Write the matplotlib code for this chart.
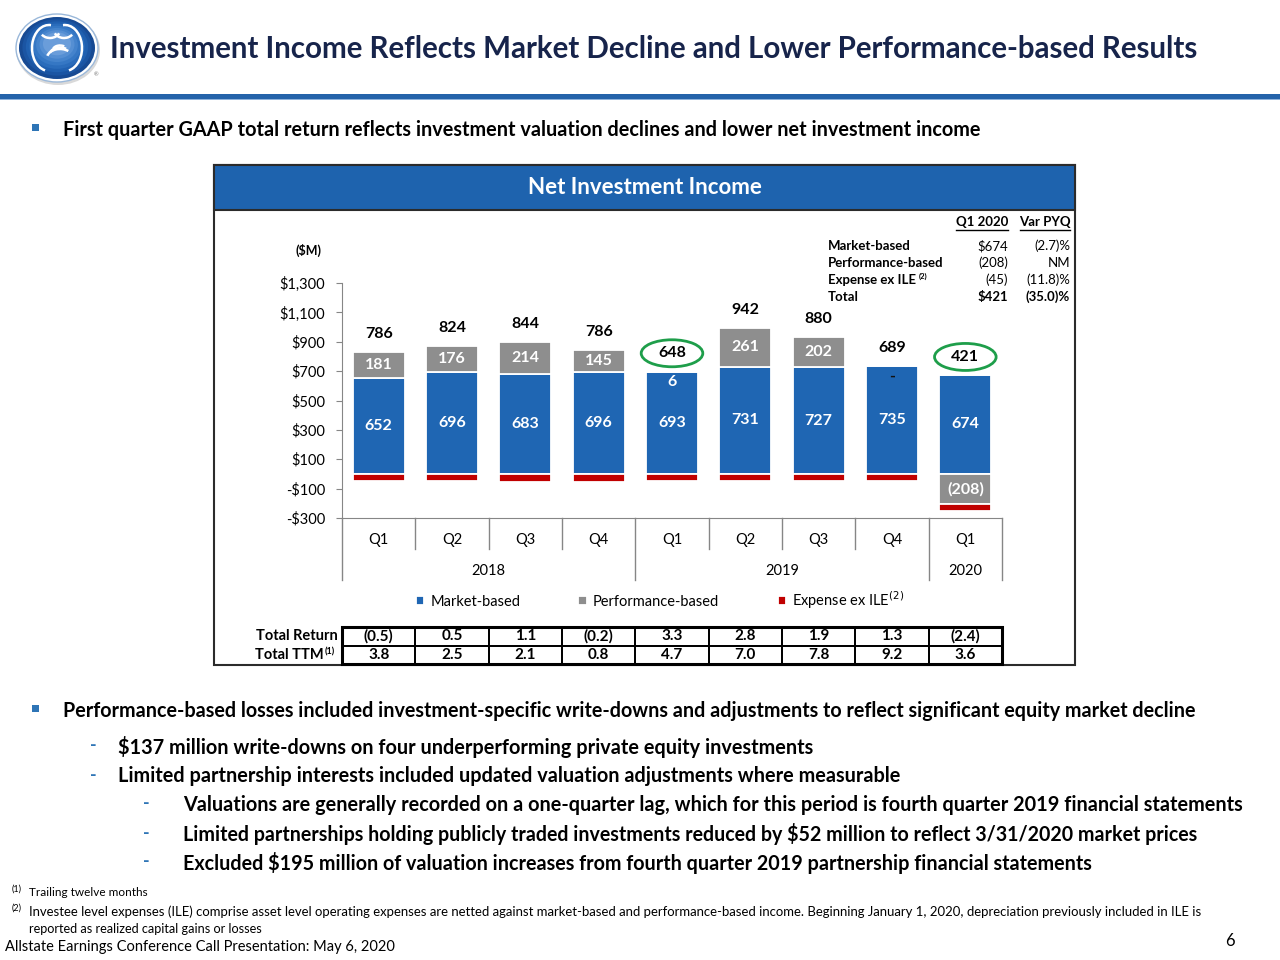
import matplotlib
matplotlib.use("Agg")
import numpy as np
import matplotlib.pyplot as plt
from matplotlib import transforms
from matplotlib.patches import Rectangle, Ellipse, Arc
from matplotlib.lines import Line2D
from matplotlib.ticker import FuncFormatter, FixedLocator

plt.rcParams['font.family'] = ['Lato', 'DejaVu Sans']

# ---------------- data ----------------
quarters = ['Q1', 'Q2', 'Q3', 'Q4', 'Q1', 'Q2', 'Q3', 'Q4', 'Q1']
years = ['2018', '2019', '2020']
year_span = [4, 4, 1]
market = [652, 696, 683, 696, 693, 731, 727, 735, 674]
performance = [181, 176, 214, 145, 6, 261, 202, 0, -208]
expense = [-47, -48, -53, -55, -51, -50, -49, -46, -45]
circled = [4, 8]
total_return = ['(0.5)', '0.5', '1.1', '(0.2)', '3.3', '2.8', '1.9', '1.3', '(2.4)']
total_ttm = ['3.8', '2.5', '2.1', '0.8', '4.7', '7.0', '7.8', '9.2', '3.6']
y_ticks = [-300, -100, 100, 300, 500, 700, 900, 1100, 1300]

summary_labels = ['Market-based', 'Performance-based', 'Expense ex ILE', 'Total']
summary_q1 = ['$674', '(208)', '(45)', '$421']
summary_var = ['(2.7)%', 'NM', '(11.8)%', '(35.0)%']

# ---------------- style ----------------
BLUE = '#1F66B3'
HDR = '#1E63AE'
GREY = '#8E8E8E'
RED = '#C00000'
NAVY = '#17244B'
AXG = '#868686'
GREEN = '#1E9E4A'

W, H = 1280, 960
fig = plt.figure(figsize=(12.8, 9.6), dpi=100)
ov = fig.add_axes([0, 0, 1, 1], zorder=0)
ov.set_xlim(0, W)
ov.set_ylim(H, 0)
ov.axis('off')
ov.set_autoscale_on(False)
renderer = fig.canvas.get_renderer()


def put(x, y, s, width=None, size=12, **kw):
    kw.setdefault('va', 'center')
    t = ov.text(x, y, s, fontsize=size, parse_math=False, **kw)
    if width:
        w = t.get_window_extent(renderer=renderer).width
        t.set_fontsize(size * width / w)
    return t


# ---------------- logo ----------------
cols = ['#174A93', '#1B55A3', '#2060B0', '#2A6CBB', '#3577C4', '#4483CC', '#558FD3', '#6A9DDA']
ov.add_patch(Ellipse((58, 50), 84, 70, fc='#D9D9D9', ec='none'))
ov.add_patch(Ellipse((57, 48), 82, 68, fc='white', ec='#9AB8DA', lw=1))
for k, c in enumerate(cols):
    s = 1 - k * 0.09
    ov.add_patch(Ellipse((57, 48 - k * 0.6), 76 * s, 62 * s, fc=c, ec='none'))
for (cx, cy, w_, h_, t1, t2) in [(49, 48, 34, 46, 100, 275), (65, 48, 34, 46, -95, 80),
                                 (60, 58, 26, 18, 190, 320), (60, 54, 20, 13, 190, 320),
                                 (60, 50, 14, 9, 190, 320),
                                 (50, 30, 20, 16, 20, 150), (64, 30, 20, 16, 30, 160)]:
    ov.add_patch(Arc((cx, cy), w_, h_, theta1=t1, theta2=t2, color='white', lw=1.8))
put(94, 75, '®', size=4, color='#777777')

# ---------------- title & rule ----------------
put(110, 49, 'Investment Income Reflects Market Decline and Lower Performance-based Results',
    width=1090, size=22, color=NAVY, fontweight='bold')
ov.add_patch(Rectangle((0, 94), W, 5, fc='#2463AA', ec='none'))
ov.add_patch(Rectangle((0, 99), W, 1.2, fc='#8FB3DC', ec='none'))

# ---------------- bullets ----------------
def bullet(y):
    ov.add_patch(Rectangle((32, y - 4), 7, 7, fc='#2E75B6', ec='none'))


bullet(128)
put(63, 130, 'First quarter GAAP total return reflects investment valuation declines and lower net investment income',
    width=912, size=13, fontweight='bold', color='black')
bullet(709)
put(63, 711, 'Performance-based losses included investment-specific write-downs and adjustments to reflect significant equity market decline',
    width=1134, size=14, fontweight='bold', color='black')
subs = [(90, 118, 747, '$137 million write-downs on four underperforming private equity investments', 695),
        (90, 118, 776, 'Limited partnership interests included updated valuation adjustments where measurable', 787),
        (143, 183, 805, 'Valuations are generally recorded on a one-quarter lag, which for this period is fourth quarter 2019 financial statements', 1062),
        (143, 183, 834, 'Limited partnerships holding publicly traded investments reduced by $52 million to reflect 3/31/2020 market prices', 1020),
        (143, 183, 863, 'Excluded $195 million of valuation increases from fourth quarter 2019 partnership financial statements', 912)]
for dx, tx, y, s, wdt in subs:
    put(dx, y - 1, '-', size=13, color='#2E75B6', fontweight='bold')
    put(tx, y, s, width=wdt, size=14, fontweight='bold', color='black')

# ---------------- footnotes ----------------
put(12, 889, '(1)', size=6.5, color='black')
put(29, 893, 'Trailing twelve months', width=118, size=8, color='black')
put(12, 908, '(2)', size=6.5, color='black')
put(29, 912, 'Investee level expenses (ILE) comprise asset level operating expenses are netted against market-based and '
             'performance-based income. Beginning January 1, 2020, depreciation previously included in ILE is',
    width=1182, size=8, color='black')
put(29, 929, 'reported as realized capital gains or losses', width=234, size=8, color='black')
put(5, 947, 'Allstate Earnings Conference Call Presentation: May 6, 2020', width=389, size=10, color='black')
put(1230, 941, '6', size=12, color='black', ha='center')

# ---------------- chart box ----------------
ov.add_patch(Rectangle((214, 165), 861, 500, fc='white', ec='#2B2B2B', lw=1.5))
ov.add_patch(Rectangle((214, 165), 861, 45, fc=HDR, ec='#2B2B2B', lw=1.5))
put(645, 188, 'Net Investment Income', size=16, color='white', fontweight='bold', ha='center')
put(308, 250, '($M)', size=9, fontweight='bold', color='black', ha='center')

# summary mini table
put(982, 222, 'Q1 2020', size=9.5, fontweight='bold', color='black', ha='center')
put(1045, 222, 'Var PYQ', size=9.5, fontweight='bold', color='black', ha='center')
ov.plot([956, 1008], [229.5, 229.5], color='black', lw=1)
ov.plot([1020, 1070], [229.5, 229.5], color='black', lw=1)
for k, (lab, q, v) in enumerate(zip(summary_labels, summary_q1, summary_var)):
    y = 246 + k * 17
    bold = 'bold' if lab == 'Total' else 'normal'
    t = put(828, y, lab, size=9.5, fontweight='bold', color='black')
    if lab.startswith('Expense'):
        bb = t.get_window_extent(renderer=renderer)
        put(bb.x1 + 3, y - 4, '(2)', size=5.5, fontweight='bold', color='black')
    put(1008, y, q, size=9.5, fontweight=bold, color='black', ha='right')
    put(1070, y, v, size=9.5, fontweight=bold, color='black', ha='right')

# ---------------- main chart ----------------
L, R, T, B = 342, 1002, 283, 518
ax = fig.add_axes([L / W, 1 - B / H, (R - L) / W, (B - T) / H], zorder=2)
ax.patch.set_alpha(0)
n = len(quarters)
x = np.arange(n)
bw = 0.71
pos_perf = [max(p, 0) for p in performance]
neg_perf = [min(p, 0) for p in performance]
ek = dict(edgecolor='white', linewidth=1.3)
b1 = ax.bar(x, market, bw, color=BLUE, label='Market-based', **ek)
b2 = ax.bar(x, pos_perf, bw, bottom=market, color=GREY, label='Performance-based', **ek)
ax.bar(x, neg_perf, bw, color=GREY, **ek)
b3 = ax.bar(x, expense, bw, bottom=neg_perf, color=RED, label='Expense ex ILE$^{(2)}$', **ek)

ax.set_xlim(-0.5, n - 0.5)
ax.set_ylim(-300, 1300)
ax.set_autoscale_on(False)
for sp in ['top', 'right']:
    ax.spines[sp].set_visible(False)
ax.spines['left'].set_color(AXG)
ax.spines['bottom'].set_color(AXG)
ax.set_xticks([])
ax.yaxis.set_major_locator(FixedLocator(y_ticks))
ax.yaxis.set_major_formatter(FuncFormatter(lambda v, p: ('-' if v < 0 else '') + '\\$' + f'{abs(v):,.0f}'))
ax.tick_params(axis='y', direction='out', length=4, color=AXG, pad=8, labelsize=10.5, labelcolor='black')

lab_kw = dict(ha='center', va='center', fontweight='bold', fontsize=11.5)
for i in range(n):
    m, p, e = market[i], performance[i], expense[i]
    ax.text(i, m / 2, f'{m}', color='white', **lab_kw)
    if p >= 20:
        ax.text(i, m + p / 2, f'{p}', color='white', **lab_kw)
    elif p > 0:
        ax.annotate(f'{p}', (i, m + p), xytext=(0, -3), textcoords='offset points',
                    ha='center', va='top', color='white', fontweight='bold', fontsize=11.5)
    elif p == 0:
        ax.annotate('-', (i, m), xytext=(0, -3), textcoords='offset points',
                    ha='center', va='top', color='#111111', fontweight='bold', fontsize=11.5)
    else:
        ax.text(i, p / 2, f'({abs(p)})', color='white', **lab_kw)
    top = m + max(p, 0)
    total = m + p + e
    off = transforms.offset_copy(ax.transData, fig=fig, x=0, y=18, units='dots')
    ax.text(i, top, f'{total}', transform=off, color='black', **lab_kw)
    if i in circled:
        ax.add_patch(Ellipse((i, top), 0.84, 27 / (B - T) * 1600, transform=off,
                             fill=False, ec=GREEN, lw=2, clip_on=False))

# category axis (two levels)
blend = transforms.blended_transform_factory(ax.transData, ov.transData)
bounds_long = [-0.5]
acc = 0
for s_ in year_span:
    acc += s_
    bounds_long.append(acc - 0.5)
for b in np.arange(n + 1) - 0.5:
    y2 = 580 if b in bounds_long else 549
    fig.add_artist(Line2D([b, b], [518, y2], transform=blend, color=AXG, lw=1))
for i, q in enumerate(quarters):
    ov.text(i, 540, q, transform=blend, ha='center', va='center', fontsize=10.5, color='black')
start = 0
for yr, s_ in zip(years, year_span):
    ov.text(start + (s_ - 1) / 2, 571, yr, transform=blend, ha='center', va='center', fontsize=10.5, color='black')
    start += s_

# legend
ax.legend(handles=[b1, b2, b3], loc='center', bbox_to_anchor=(660 / W, 1 - 600 / H),
          bbox_transform=fig.transFigure, ncol=3, frameon=False, fontsize=10.5,
          handlelength=0.6, handleheight=0.6, handletextpad=0.4, columnspacing=4.0)

# total return table
for r_, (lab, vals) in enumerate([('Total Return', total_return), ('Total TTM', total_ttm)]):
    y0 = 627 + r_ * 18.5
    for i, v in enumerate(vals):
        fig.add_artist(Rectangle((i - 0.5, y0), 1, 18.5, transform=blend, fill=False, ec='black', lw=1.3))
        ov.text(i, y0 + 9.5, v, transform=blend, ha='center', va='center', fontsize=11,
                fontweight='bold', color='black')
    if r_ == 0:
        put(338, y0 + 9.5, lab, size=10.5, fontweight='bold', color='black', ha='right')
    else:
        put(324, y0 + 9.5, lab, size=10.5, fontweight='bold', color='black', ha='right')
        put(325, y0 + 6, '(1)', size=6.5, fontweight='bold', color='black', ha='left')
fig.add_artist(Rectangle((-0.5, 627), n, 37, transform=blend, fill=False, ec='black', lw=2.2))

fig.savefig('out.png', dpi=100, facecolor='white')
